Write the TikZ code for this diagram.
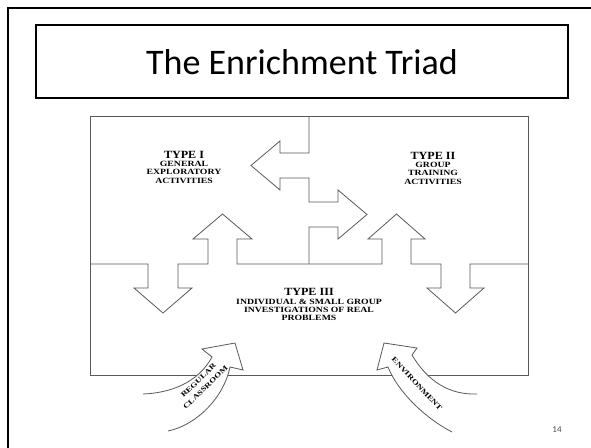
\documentclass[tikz,border=0pt]{standalone}
\usepackage{fontspec}
\setmainfont{Carlito}
\newfontfamily\serf{Liberation Serif}
\newcommand\wideln[2]{\scalebox{#1}[1]{#2}}
\begin{document}
\begin{tikzpicture}[x=1pt,y=-1pt,
  dline/.style={draw=black!65, line width=0.8pt, line join=miter},
  hd/.style={anchor=base, inner sep=0pt, font=\serf\bfseries\fontsize{11}{11}\selectfont},
  sm/.style={anchor=base, inner sep=0pt, font=\serf\bfseries\fontsize{8}{8}\selectfont},
  arr/.style={inner sep=0pt, font=\serf\bfseries\fontsize{7}{7}\selectfont},
  ]
\useasboundingbox (0,0) rectangle (591,447);
\fill[white] (0,0) rectangle (591,447);
% slide frame
\draw[line width=2.2pt] (8,470) -- (8,8) -- (620,8);
% title box
\draw[line width=1.2pt] (36,25) rectangle (568,98);
\node (title) at (302,62) {\fontsize{36}{36}\selectfont The Enrichment Triad};
% diagram frame
\draw[dline] (90,116) rectangle (528,375);
% upper divider with left/right arrows
\draw[dline] (309,116) -- (309,153) -- (280,153) -- (280,141) -- (251,165.5) -- (280,190)
  -- (280,178) -- (309,178) -- (309,202) -- (338,202) -- (338,190) -- (367,214.5)
  -- (338,239) -- (338,227) -- (309,227) -- (309,264);
% middle divider with up/down arrows
\draw[dline] (90,264) -- (148,264) -- (148,288) -- (134,288) -- (163,313) -- (192,288)
  -- (178,288) -- (178,264) -- (208,264) -- (208,239) -- (193,239) -- (222.5,214)
  -- (252,239) -- (237,239) -- (237,264) -- (382,264) -- (382,239) -- (368,239)
  -- (396.5,214) -- (425,239) -- (411,239) -- (411,264) -- (441,264) -- (441,288)
  -- (427,288) -- (455.5,313) -- (484,288) -- (470,288) -- (470,264) -- (528,264);
% curved arrow: regular classroom
\fill[white] (143,394) .. controls (170,393) and (198,383) .. (212,357) -- (202,349)
  -- (235,343) -- (243,370) -- (230,367) .. controls (224,397) and (197,425) .. (168,431) -- cycle;
\draw[dline] (143,394) .. controls (170,393) and (198,383) .. (212,357) -- (202,349)
  -- (235,343) -- (243,370) -- (230,367) .. controls (224,397) and (197,425) .. (168,431);
% curved arrow: environment
\fill[white] (477,394) .. controls (450,395) and (428,382) .. (412,355) -- (417,348)
  -- (384,343) -- (377,370) -- (388,367) .. controls (398,392) and (425,418) .. (452,432) -- cycle;
\draw[dline] (477,394) .. controls (450,395) and (428,382) .. (412,355) -- (417,348)
  -- (384,343) -- (377,370) -- (388,367) .. controls (398,392) and (425,418) .. (452,432);
% Type I
\node[hd] (t1a) at (184,158.6) {\wideln{1.1}{TYPE I}};
\node[sm] (t1b) at (184,166.7) {\wideln{1.22}{GENERAL}};
\node[sm] (t1c) at (184,174.7) {\wideln{1.22}{EXPLORATORY}};
\node[sm] (t1d) at (184,183.7) {\wideln{1.22}{ACTIVITIES}};
% Type II
\node[hd] (t2a) at (433,159.6) {\wideln{1.1}{TYPE II}};
\node[sm] (t2b) at (433,167.7) {\wideln{1.22}{GROUP}};
\node[sm] (t2c) at (433,175.7) {\wideln{1.22}{TRAINING}};
\node[sm] (t2d) at (433,184.7) {\wideln{1.22}{ACTIVITIES}};
% Type III
\node[hd] (t3a) at (309,295.8) {\wideln{1.1}{TYPE III}};
\node[sm] (t3b) at (309,304.4) {\wideln{1.22}{INDIVIDUAL \& SMALL GROUP}};
\node[sm] (t3c) at (309,312.7) {\wideln{1.22}{INVESTIGATIONS OF REAL}};
\node[sm] (t3d) at (309,320.0) {\wideln{1.22}{PROBLEMS}};
% arrow labels
\node[arr, rotate=44] (reg) at (198.5,380.4) {\wideln{1.3}{REGULAR}};
\node[arr, rotate=44] (cls) at (205.5,387.6) {\wideln{1.3}{CLASSROOM}};
\node[arr, rotate=-47] (env) at (417,384) {\wideln{1.3}{ENVIRONMENT}};
% page number
\node[text=black!70, font=\fontsize{9}{9}\selectfont] (pg) at (557,430) {14};
\end{tikzpicture}
\end{document}
